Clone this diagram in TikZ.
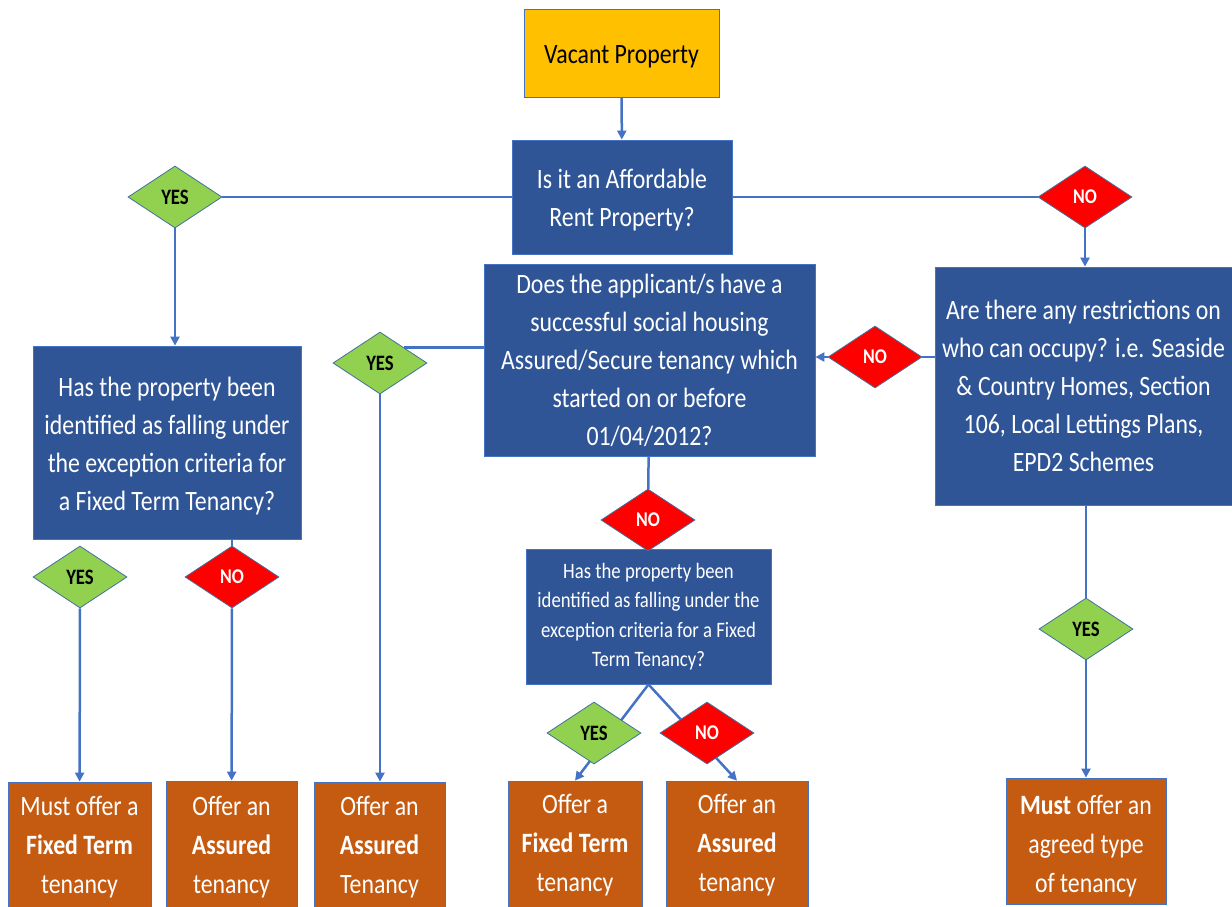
\documentclass[tikz,border=0pt]{standalone}
\usepackage{fontspec}
\setmainfont{Carlito}[FakeStretch=0.85]
\usetikzlibrary{shapes.geometric,arrows.meta,backgrounds}
\definecolor{startfill}{HTML}{FFC000}
\definecolor{askfill}{HTML}{2F5597}
\definecolor{offerfill}{HTML}{C55A11}
\definecolor{yesfill}{HTML}{92D050}
\definecolor{nofill}{HTML}{FF0000}
\definecolor{linkblue}{HTML}{4472C4}
\definecolor{edgeblue}{HTML}{41719C}
\begin{document}
\begin{tikzpicture}[x=1pt,y=-1pt,>={Triangle[length=9pt,width=9pt]},
        flow/.style={draw=linkblue,line width=2.5pt},
        startbox/.style={draw=linkblue,line width=0.8pt,fill=startfill,align=center,inner sep=0pt,font=\fontsize{28}{38}\selectfont},
        ask/.style={draw=linkblue,line width=0.8pt,fill=askfill,text=white,align=center,inner sep=0pt,font=\fontsize{28}{38}\selectfont},
        smallask/.style={ask,font=\fontsize{22}{29.5}\selectfont},
        offer/.style={draw=linkblue,line width=0.8pt,fill=offerfill,text=white,align=center,inner sep=0pt,font=\fontsize{28}{39}\selectfont},
        yes/.style={diamond,draw=edgeblue,line width=0.8pt,fill=yesfill,inner sep=0pt,minimum width=94pt,minimum height=62pt,font=\fontsize{22}{22}\selectfont\bfseries},
        no/.style={yes,fill=nofill,text=white,font=\fontsize{21}{21}\selectfont\bfseries}]
        \path[use as bounding box,clip] (0,0) rectangle (1232,906);

        \node (vacant) [startbox,minimum width=195pt,minimum height=88pt] at (621.5,53) {\rule{0pt}{26pt}Vacant Property};
        \node (afford) [ask,minimum width=220pt,minimum height=114pt] at (622,197) {\rule{0pt}{26pt}Is it an Affordable\\Rent Property?};
        \node (yesA) [yes] at (175,197) {YES};
        \node (noA) [no] at (1085,197) {NO};

        \node (except) [ask,minimum width=268pt,minimum height=193pt] at (167,442.5) {\rule{0pt}{26pt}Has the property been\\identified as falling under\\the exception criteria for\\a Fixed Term Tenancy?};
        \node (secure) [ask,minimum width=331pt,minimum height=192pt] at (649.5,360) {Does the applicant/s have a\\successful social housing\\Assured/Secure tenancy which\\started on or before\\01/04/2012?};
        \node (restrict) [ask,minimum width=297pt,minimum height=238pt] at (1083.5,386) {Are there any restrictions on\\who can occupy? i.e. Seaside\\\& Country Homes, Section\\106, Local Lettings Plans,\\EPD2 Schemes};
        \node (noB) [no] at (875,357) {NO};
        \node (yesB) [yes] at (380,363) {YES};

        \node (yesC) [yes] at (80,577) {YES};
        \node (noC) [no] at (232,577) {NO};
        \node (except2) [smallask,minimum width=245pt,minimum height=135pt] at (648.5,616.5) {Has the property been\\identified as falling under the\\exception criteria for a Fixed\\Term Tenancy?};
        \node (noD) [no] at (648,520) {NO};
        \node (yesE) [yes] at (594,733) {YES};
        \node (noE) [no] at (707,733) {NO};
        \node (yesF) [yes] at (1086,629) {YES};

        \node (fixedL) [offer,minimum width=143pt,minimum height=130pt] at (79.5,847) {Must offer a\\\textbf{Fixed Term}\\tenancy};
        \node (assuredL) [offer,minimum width=131pt,minimum height=132pt] at (231.5,847) {Offer an\\\textbf{Assured}\\tenancy};
        \node (assuredM) [offer,minimum width=131pt,minimum height=130pt] at (379.5,847) {Offer an\\\textbf{Assured}\\Tenancy};
        \node (fixedM) [offer,minimum width=134pt,minimum height=129pt] at (575,845.5) {Offer a\\\textbf{Fixed Term}\\tenancy};
        \node (assuredR) [offer,minimum width=142pt,minimum height=129pt] at (737,845.5) {Offer an\\\textbf{Assured}\\tenancy};
        \node (agreed) [offer,minimum width=160pt,minimum height=126pt] at (1086,841) {\rule{0pt}{30pt}\textbf{Must} offer an\\agreed type\\of tenancy};

        \begin{pgfonlayer}{background}
        \draw[flow,->] (vacant) -- (afford);
        \draw[flow] (afford) -- (yesA);
        \draw[flow,->] (yesA.south) -- (yesA.south |- except.north);
        \draw[flow] (afford) -- (noA);
        \draw[flow,->] (noA.south) -- (noA.south |- restrict.north);
        \draw[flow] (restrict.west |- noB) -- (noB);
        \draw[flow,->] (noB) -- (secure.east |- noB);
        \draw[flow] (secure.west |- yesB.north east) -- (yesB.north east);
        \draw[flow,->] (yesB.south) -- (yesB.south |- assuredM.north);
        \draw[flow] (except.south -| noC) -- (noC);
        \draw[flow,->] (noC) -- (assuredL);
        \draw[flow,->] (yesC) -- (fixedL);
        \draw[flow] (secure) -- (noD);
        \draw[flow,->] (except2.south) -- (fixedM.north);
        \draw[flow,->] (except2.south) -- (assuredR.north);
        \draw[flow] (restrict.south -| yesF) -- (yesF);
        \draw[flow,->] (yesF) -- (agreed);
        \end{pgfonlayer}
    \end{tikzpicture}
\end{document}
